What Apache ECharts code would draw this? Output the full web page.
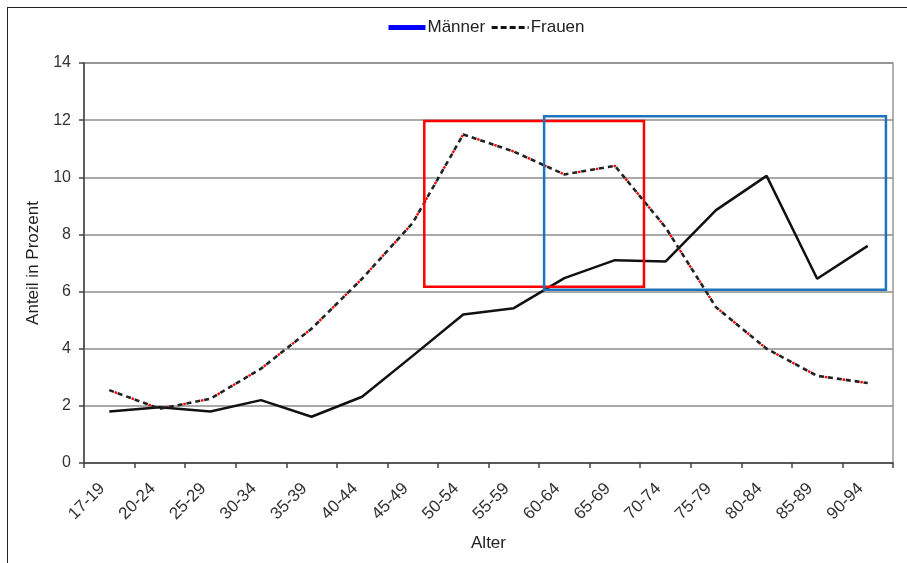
<!DOCTYPE html>
<html>
<head>
<meta charset="utf-8">
<script src="https://cdn.jsdelivr.net/npm/echarts@6/dist/echarts.min.js"></script>
<style>
  html, body { margin: 0; padding: 0; background: #ffffff; }
  #frame { position: absolute; left: 7px; top: 7px; width: 1000px; height: 1000px;
           border-left: 1.5px solid #222; border-top: 1.5px solid #222; }
  #chart { position: absolute; left: 0; top: 0; width: 907px; height: 563px; }
</style>
</head>
<body>
<div id="frame"></div>
<div id="chart"></div>
<script>
// ---- data ----
const categories = ['17-19','20-24','25-29','30-34','35-39','40-44','45-49','50-54',
                    '55-59','60-64','65-69','70-74','75-79','80-84','85-89','90-94'];
const maennerValues = [1.8, 1.95, 1.8, 2.2, 1.62, 2.32, 3.75, 5.2, 5.42, 6.47, 7.1, 7.05, 8.85, 10.05, 6.45, 7.6];
const frauenValues  = [2.55, 1.9, 2.25, 3.3, 4.7, 6.45, 8.4, 11.5, 10.9, 10.1, 10.4, 8.25, 5.45, 4.0, 3.05, 2.8];
const yMin = 0, yMax = 14, yStep = 2;
// annotation boxes in data units: [xIndexFrom, xIndexTo, yFrom, yTo]
const redBox  = [6.23, 10.575, 6.17, 11.97];
const blueBox = [8.6, 15.36, 6.06, 12.14];

const chart = echarts.init(document.getElementById('chart'), null, { renderer: 'canvas' });
const font = 'Liberation Sans, Arial, sans-serif';

chart.setOption({
  animation: false,
  backgroundColor: 'transparent',
  legend: {
    left: 381, top: 14,
    itemWidth: 37, itemHeight: 14, itemGap: 5,
    textStyle: { fontFamily: font, fontSize: 17, color: '#222', padding: [0, 0, 0, -3] },
    data: [
      { name: 'Männer', lineStyle: { color: '#0000ff', width: 5, type: 'solid' }, itemStyle: { opacity: 0 } },
      { name: 'Frauen', lineStyle: { color: '#111', width: 3, type: [6, 3] }, itemStyle: { opacity: 0 } }
    ]
  },
  grid: { left: 84, right: 14, top: 63, bottom: 100, show: true, borderColor: '#999', borderWidth: 1.5 },
  xAxis: {
    type: 'category',
    data: categories,
    boundaryGap: true,
    name: 'Alter',
    nameLocation: 'middle',
    nameGap: 72,
    nameTextStyle: { fontFamily: font, fontSize: 17, color: '#222' },
    axisLine: { lineStyle: { color: '#444', width: 1.5 } },
    axisTick: { show: true, length: 5, lineStyle: { color: '#444', width: 1.5 } },
    axisLabel: { rotate: 45, fontFamily: font, fontSize: 17, color: '#333', margin: 16,
                 padding: [0, 10, 0, 0], interval: 0 },
    splitLine: { show: false }
  },
  yAxis: {
    type: 'value',
    min: yMin, max: yMax, interval: yStep,
    name: 'Anteil in Prozent',
    nameLocation: 'middle',
    nameGap: 37,
    nameTextStyle: { fontFamily: font, fontSize: 17, color: '#222' },
    axisLine: { show: true, lineStyle: { color: '#444', width: 1.5 } },
    axisTick: { show: true, length: 5, lineStyle: { color: '#444', width: 1.5 } },
    axisLabel: { fontFamily: font, fontSize: 16, color: '#333', margin: 13 },
    splitLine: { show: true, lineStyle: { color: '#8c8c8c', width: 1.5 } }
  },
  series: [
    {
      name: 'Männer', type: 'line', data: maennerValues,
      symbol: 'none', z: 3,
      lineStyle: { color: '#111', width: 2.5, type: 'solid' },
      itemStyle: { color: '#0000ff' }
    },
    {
      name: 'FrauenBase', type: 'line', data: frauenValues,
      symbol: 'none', z: 2, silent: true,
      lineStyle: { color: '#ff0000', width: 2.4, type: [2.5, 15.5], dashOffset: -5.8 },
      itemStyle: { color: '#ff0000' }
    },
    {
      name: 'Frauen', type: 'line', data: frauenValues,
      symbol: 'none', z: 3,
      lineStyle: { color: '#222', width: 2.6, type: [5, 4] },
      itemStyle: { color: '#ff0000' }
    }
  ]
});

function xPix(f) {
  const p0 = chart.convertToPixel({ xAxisIndex: 0 }, 0);
  const p1 = chart.convertToPixel({ xAxisIndex: 0 }, 1);
  return p0 + f * (p1 - p0);
}
function yPix(v) { return chart.convertToPixel({ yAxisIndex: 0 }, v); }
function boxGraphic(b, color) {
  const x0 = xPix(b[0]), x1 = xPix(b[1]);
  const yTop = yPix(b[3]), yBot = yPix(b[2]);
  return {
    type: 'rect', z: 100,
    shape: { x: x0, y: yTop, width: x1 - x0, height: yBot - yTop },
    style: { fill: null, stroke: color, lineWidth: 2.5 }
  };
}
chart.setOption({
  graphic: [ boxGraphic(redBox, '#ff0000'), boxGraphic(blueBox, '#1f74bd') ]
});
</script>
</body>
</html>
